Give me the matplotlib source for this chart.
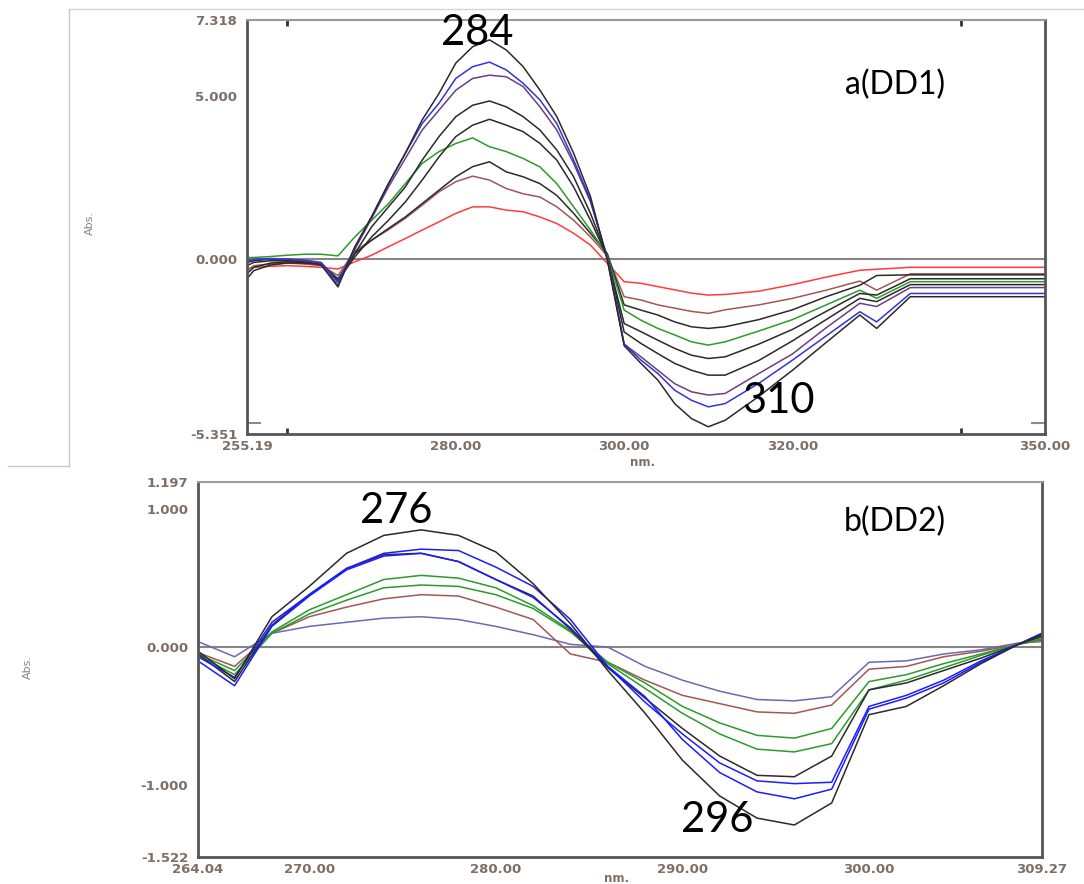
import matplotlib
matplotlib.use("Agg")
import matplotlib.pyplot as plt
from matplotlib.lines import Line2D

# ---- panel a (DD1) : wavelength grid and curves ----
wl_a = [255.19, 256, 258, 260, 262, 264, 266, 268, 270, 272, 274, 276, 278, 280,
        282, 284, 286, 288, 290, 292, 294, 296, 298, 300, 302, 304, 306, 308,
        310, 312, 316, 320, 324, 328, 330, 334, 350]

a_red = [-0.30, -0.25, -0.22, -0.20, -0.22, -0.25, -0.30, -0.08, 0.12, 0.38, 0.63, 0.89, 1.14, 1.40,
         1.60, 1.60, 1.50, 1.45, 1.29, 1.09, 0.79, 0.43, -0.13, -0.69, -0.74, -0.84, -0.94, -1.04,
         -1.10, -1.08, -0.98, -0.78, -0.55, -0.34, -0.31, -0.25, -0.25]
a_brown = [-0.35, -0.20, -0.15, -0.12, -0.15, -0.20, -0.50, 0.25, 0.58, 0.90, 1.25, 1.65, 2.06, 2.37,
           2.54, 2.42, 2.16, 2.00, 1.90, 1.60, 1.19, 0.68, 0.10, -1.15, -1.25, -1.40, -1.50, -1.60,
           -1.66, -1.55, -1.40, -1.20, -0.95, -0.67, -0.95, -0.45, -0.45]
a_black3 = [-0.60, -0.35, -0.18, -0.12, -0.12, -0.15, -0.60, 0.17, 0.58, 0.94, 1.29, 1.70, 2.11, 2.52,
            2.83, 2.98, 2.67, 2.52, 2.31, 1.95, 1.40, 0.79, 0.17, -1.40, -1.56, -1.71, -1.92, -2.07,
            -2.12, -2.07, -1.85, -1.55, -1.15, -0.80, -0.50, -0.48, -0.48]
a_green = [0.05, 0.05, 0.08, 0.12, 0.15, 0.15, 0.10, 0.68, 1.19, 1.70, 2.31, 2.93, 3.29, 3.54,
           3.71, 3.44, 3.29, 3.08, 2.82, 2.31, 1.60, 0.89, 0.12, -1.56, -1.87, -2.12, -2.32, -2.53,
           -2.63, -2.53, -2.20, -1.85, -1.40, -0.95, -1.20, -0.69, -0.69]
a_black5 = [-0.10, -0.05, 0.00, -0.02, -0.05, -0.12, -0.65, 0.07, 0.68, 1.19, 1.75, 2.42, 3.13, 3.75,
            4.10, 4.28, 4.10, 3.90, 3.54, 3.03, 2.21, 1.19, 0.07, -1.97, -2.22, -2.48, -2.73, -2.94,
            -3.04, -2.99, -2.60, -2.15, -1.60, -1.05, -1.10, -0.60, -0.60]
a_black6 = [-0.20, -0.10, -0.05, -0.05, -0.08, -0.15, -0.70, 0.17, 0.99, 1.60, 2.21, 3.03, 3.75, 4.36,
            4.71, 4.84, 4.66, 4.36, 3.95, 3.34, 2.52, 1.40, 0.07, -2.23, -2.58, -2.89, -3.19, -3.40,
            -3.55, -3.55, -3.10, -2.50, -1.85, -1.20, -1.30, -0.78, -0.78]
a_purple = [-0.05, 0.00, 0.02, 0.00, -0.05, -0.12, -0.80, 0.30, 1.25, 2.21, 3.08, 3.95, 4.56, 5.17,
            5.53, 5.63, 5.58, 5.28, 4.66, 3.95, 2.93, 1.75, 0.07, -2.60, -2.99, -3.40, -3.81, -4.06,
            -4.16, -4.11, -3.50, -2.90, -2.10, -1.35, -1.45, -0.87, -0.87]
a_blue = [-0.05, -0.02, 0.00, 0.00, -0.03, -0.10, -0.70, 0.35, 1.30, 2.31, 3.24, 4.15, 4.77, 5.53,
          5.89, 6.03, 5.79, 5.38, 4.87, 4.15, 3.03, 1.80, 0.00, -2.60, -3.09, -3.50, -4.01, -4.32,
          -4.52, -4.42, -3.80, -3.09, -2.35, -1.61, -1.92, -1.05, -1.05]
a_black9 = [-0.45, -0.25, -0.12, -0.08, -0.10, -0.18, -0.85, 0.38, 1.30, 2.31, 3.24, 4.26, 5.07, 6.00,
            6.50, 6.71, 6.40, 5.89, 5.17, 4.36, 3.24, 1.91, -0.03, -2.65, -3.19, -3.70, -4.42, -4.88,
            -5.13, -4.93, -4.20, -3.40, -2.55, -1.71, -2.12, -1.15, -1.15]

# ---- panel b (DD2) ----
wl_b = [264.04, 266, 268, 270, 272, 274, 276, 278, 280, 282, 284, 286, 288, 290,
        292, 294, 296, 298, 300, 302, 304, 306, 308, 309.27]

b_lav = [0.04, -0.07, 0.10, 0.15, 0.18, 0.21, 0.22, 0.20, 0.15, 0.09, 0.02, 0.00, -0.14, -0.24,
         -0.32, -0.38, -0.39, -0.36, -0.11, -0.10, -0.05, -0.02, 0.03, 0.04]
b_brown = [-0.04, -0.14, 0.10, 0.22, 0.29, 0.35, 0.38, 0.37, 0.29, 0.20, -0.05, -0.11, -0.24, -0.35,
           -0.41, -0.47, -0.48, -0.42, -0.16, -0.14, -0.07, -0.03, 0.02, 0.05]
b_green1 = [-0.05, -0.17, 0.11, 0.27, 0.38, 0.49, 0.52, 0.50, 0.43, 0.30, 0.12, -0.11, -0.26, -0.43,
            -0.55, -0.64, -0.66, -0.59, -0.25, -0.20, -0.12, -0.05, 0.02, 0.06]
b_green2 = [-0.06, -0.20, 0.10, 0.24, 0.34, 0.43, 0.45, 0.44, 0.38, 0.28, 0.11, -0.12, -0.30, -0.48,
            -0.63, -0.74, -0.76, -0.70, -0.31, -0.24, -0.15, -0.06, 0.02, 0.07]
b_black2 = [-0.05, -0.25, 0.16, 0.38, 0.57, 0.67, 0.68, 0.62, 0.49, 0.37, 0.13, -0.15, -0.37, -0.59,
            -0.79, -0.93, -0.94, -0.79, -0.31, -0.26, -0.17, -0.08, 0.02, 0.08]
b_blue1 = [-0.07, -0.22, 0.18, 0.38, 0.57, 0.68, 0.71, 0.70, 0.58, 0.44, 0.20, -0.14, -0.40, -0.63,
           -0.84, -0.97, -0.99, -0.98, -0.43, -0.35, -0.24, -0.10, 0.02, 0.10]
b_blue2 = [-0.10, -0.28, 0.15, 0.37, 0.56, 0.66, 0.68, 0.62, 0.49, 0.36, 0.14, -0.14, -0.36, -0.67,
           -0.91, -1.05, -1.10, -1.03, -0.45, -0.37, -0.26, -0.11, 0.02, 0.10]
b_black1 = [-0.03, -0.23, 0.22, 0.44, 0.68, 0.81, 0.85, 0.81, 0.69, 0.46, 0.17, -0.17, -0.48, -0.82,
            -1.08, -1.24, -1.29, -1.13, -0.49, -0.43, -0.28, -0.12, 0.02, 0.09]

# axis limits / tick labels as printed by the instrument
xlim_a = (255.19, 350.00)
ylim_a = (-5.351, 7.318)
xlab_a = [255.19, 280.00, 300.00, 320.00, 350.00]
xmark_a = [260, 280, 300, 320, 340]
ylab_a = [-5.351, 0.0, 5.0, 7.318]
ymark_a = [-5.0, 5.0]

xlim_b = (264.04, 309.27)
ylim_b = (-1.522, 1.197)
xlab_b = [264.04, 270.00, 280.00, 290.00, 300.00, 309.27]
xmark_b = [270, 280, 290, 300]
ylab_b = [-1.522, -1.0, 0.0, 1.0, 1.197]
ymark_b = [-1.0, 1.0]

W, H = 1084, 884
fig = plt.figure(figsize=(W / 100, H / 100), dpi=100)

RED = "#ff3b3b"
BROWN = "#a45656"
BLK = "#2a2a2a"
GRN = "#2b9b2b"
PUR = "#6b3f82"
BLU = "#3434d6"
BBLU = "#1c1cff"
LAV = "#6a6ab4"
TICKC = "#7d6f66"


def px_axes(l, t, r, b):
    return fig.add_axes([l / W, 1 - b / H, (r - l) / W, (b - t) / H])


def style(ax, xlim, ylim, xlab, xmark, ylab, ymark, fmt):
    ax.set_xlim(*xlim)
    ax.set_ylim(*ylim)
    ax.axhline(0, color="#858585", lw=1.5, zorder=1)
    ax.set_xticks(xlab)
    ax.set_xticklabels(["%.2f" % v for v in xlab])
    ax.set_xticks(xmark, minor=True)
    ax.set_yticks(ylab)
    ax.set_yticklabels([fmt % v for v in ylab])
    ax.set_yticks(ymark, minor=True)
    ax.tick_params(axis="both", which="major", length=0, labelsize=9.5,
                   labelcolor=TICKC)
    ax.tick_params(axis="x", which="major", pad=4)
    ax.tick_params(axis="y", which="major", pad=7)
    ax.tick_params(axis="x", which="minor", direction="in", length=4, width=2,
                   color="#333333", top=True, bottom=True)
    ax.tick_params(axis="y", which="minor", direction="in", length=10, width=1.5,
                   color="#8a8a8a", left=True, right=True)
    for lab in ax.get_xticklabels() + ax.get_yticklabels():
        lab.set_fontweight("bold")
    for side in ["left", "right", "bottom"]:
        ax.spines[side].set_color("#555555")
        ax.spines[side].set_linewidth(2)
    ax.spines["top"].set_color("#9a9a9a")
    ax.spines["top"].set_linewidth(1.5)


# screenshot border of the upper picture
fig.add_artist(Line2D([69 / W, 69 / W], [1 - 9 / H, 1 - 466 / H], color="#c8c8c8", lw=1))
fig.add_artist(Line2D([69 / W, 1.0], [1 - 9 / H, 1 - 9 / H], color="#d4d4d4", lw=1))
fig.add_artist(Line2D([8 / W, 69 / W], [1 - 466 / H, 1 - 466 / H], color="#c8c8c8", lw=1))

# ---------------- panel a ----------------
ax1 = px_axes(247, 20, 1045, 434)
lw = 1.1
ax1.plot(wl_a, a_red, color=RED, lw=lw)
ax1.plot(wl_a, a_brown, color=BROWN, lw=lw)
ax1.plot(wl_a, a_black3, color=BLK, lw=lw)
ax1.plot(wl_a, a_green, color=GRN, lw=lw)
ax1.plot(wl_a, a_black5, color=BLK, lw=lw)
ax1.plot(wl_a, a_black6, color=BLK, lw=lw)
ax1.plot(wl_a, a_purple, color=PUR, lw=lw)
ax1.plot(wl_a, a_blue, color=BLU, lw=lw)
ax1.plot(wl_a, a_black9, color=BLK, lw=lw)
style(ax1, xlim_a, ylim_a, xlab_a, xmark_a, ylab_a, ymark_a, "%.3f")

big = dict(family="Lato", color="black", ha="center", va="baseline")
ax1.text(282.5, 6.55, "284", fontsize=30, **big)
ax1.text(318.3, -4.72, "310", fontsize=30, **big)
ax1.text(332.2, 5.05, "a(DD1)", fontsize=23, **big)

fig.text(643 / W, 1 - 462 / H, "nm.", fontsize=8.5, color=TICKC, fontweight="bold",
         ha="center", va="center")
fig.text(90 / W, 1 - 223 / H, "Abs.", fontsize=8, color="#858585", rotation=90,
         ha="center", va="center")

# ---------------- panel b ----------------
ax2 = px_axes(198, 482, 1042, 857)
ax2.plot(wl_b, b_lav, color=LAV, lw=lw)
ax2.plot(wl_b, b_brown, color=BROWN, lw=lw)
ax2.plot(wl_b, b_green1, color=GRN, lw=lw)
ax2.plot(wl_b, b_green2, color=GRN, lw=lw)
ax2.plot(wl_b, b_black2, color=BLK, lw=lw)
ax2.plot(wl_b, b_blue1, color=BBLU, lw=lw)
ax2.plot(wl_b, b_blue2, color=BBLU, lw=lw)
ax2.plot(wl_b, b_black1, color=BLK, lw=lw)
style(ax2, xlim_b, ylim_b, xlab_b, xmark_b, ylab_b, ymark_b, "%.3f")

ax2.text(274.65, 0.90, "276", fontsize=30, **big)
ax2.text(291.85, -1.34, "296", fontsize=30, **big)
ax2.text(301.4, 0.84, "b(DD2)", fontsize=23, **big)

fig.text(617 / W, 1 - 879 / H, "nm.", fontsize=8.5, color=TICKC, fontweight="bold",
         ha="center", va="center")
fig.text(28 / W, 1 - 667 / H, "Abs.", fontsize=8, color="#858585", rotation=90,
         ha="center", va="center")

fig.savefig("out.png", dpi=100)
